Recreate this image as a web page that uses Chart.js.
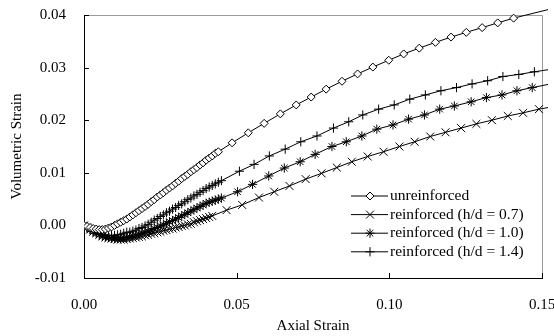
<!DOCTYPE html>
<html>
<head>
<meta charset="utf-8">
<script src="https://cdn.jsdelivr.net/npm/chart.js@4.4.1/dist/chart.umd.min.js"></script>
<style>
  body { margin: 0; background: #fff; }
  canvas { display: block; }
</style>
</head>
<body>
<canvas id="chart" width="554" height="336"></canvas>
<script>
// values (axial strain vs volumetric strain)
const labels = ['unreinforced', 'reinforced (h/d = 0.7)', 'reinforced (h/d = 1.0)', 'reinforced (h/d = 1.4)']

const unrStrain = [0, 0.001, 0.002, 0.003, 0.004, 0.005, 0.006, 0.007, 0.008, 0.009, 0.010, 0.011, 0.012, 0.013, 0.014, 0.015, 0.016, 0.017, 0.018, 0.019, 0.020, 0.021, 0.022, 0.023, 0.024, 0.025, 0.026, 0.027, 0.028, 0.029, 0.030, 0.031, 0.032, 0.033, 0.034, 0.035, 0.036, 0.037, 0.038, 0.039, 0.040, 0.041, 0.042, 0.043, 0.044,
    0.0485, 0.0538, 0.0590, 0.0643, 0.0695, 0.0744, 0.0793, 0.0845, 0.0896, 0.0946, 0.0998, 0.1047, 0.1098, 0.1151, 0.1202, 0.1252, 0.1304, 0.1355, 0.1407, 0.1525]
const unrVol = [0, -0.0002, -0.0004, -0.0006, -0.0007, -0.0008, -0.0008, -0.0007, -0.0005, -0.0003, 0.0000, 0.0003, 0.0006, 0.0009, 0.0012, 0.0016, 0.0020, 0.0024, 0.0028, 0.0032, 0.0036, 0.0040, 0.0045, 0.0049, 0.0054, 0.0058, 0.0062, 0.0067, 0.0071, 0.0075, 0.0080, 0.0084, 0.0089, 0.0093, 0.0097, 0.0102, 0.0106, 0.0110, 0.0115, 0.0119, 0.0124, 0.0128, 0.0132, 0.0137, 0.0140,
    0.0157, 0.0176, 0.0194, 0.0212, 0.0229, 0.0244, 0.0259, 0.0274, 0.0288, 0.0301, 0.0314, 0.0326, 0.0337, 0.0348, 0.0358, 0.0367, 0.0376, 0.0385, 0.0394, 0.0411]

const r07Strain = [0, 0.001, 0.002, 0.003, 0.004, 0.005, 0.006, 0.007, 0.008, 0.009, 0.010, 0.011, 0.012, 0.013, 0.014, 0.015, 0.016, 0.017, 0.018, 0.019, 0.020, 0.021, 0.022, 0.023, 0.024, 0.025, 0.026, 0.027, 0.028, 0.029, 0.030, 0.031, 0.032, 0.033, 0.034, 0.035, 0.036, 0.037, 0.038, 0.039, 0.040, 0.041, 0.042,
    0.0467, 0.0518, 0.0573, 0.0623, 0.0673, 0.0726, 0.0778, 0.0828, 0.0877, 0.0929, 0.0981, 0.1033, 0.1083, 0.1134, 0.1184, 0.1235, 0.1285, 0.1336, 0.1388, 0.1438, 0.1490, 0.1520]
const r07Vol = [0, -0.0004, -0.0008, -0.0012, -0.0015, -0.0018, -0.0021, -0.0023, -0.0024, -0.0025, -0.0026, -0.0027, -0.0027, -0.0027, -0.0026, -0.0025, -0.0024, -0.0023, -0.0022, -0.0021, -0.0019, -0.0018, -0.0016, -0.0015, -0.0013, -0.0012, -0.0010, -0.0009, -0.0007, -0.0006, -0.0004, -0.0003, -0.0001, 0.0000, 0.0002, 0.0003, 0.0006, 0.0008, 0.0010, 0.0012, 0.0014, 0.0016, 0.0018,
    0.0029, 0.0039, 0.0053, 0.0064, 0.0075, 0.0088, 0.0099, 0.0110, 0.0121, 0.0131, 0.0140, 0.0150, 0.0159, 0.0169, 0.0177, 0.0185, 0.0193, 0.0200, 0.0208, 0.0214, 0.0221, 0.0224]

const r10Strain = [0, 0.001, 0.002, 0.003, 0.004, 0.005, 0.006, 0.007, 0.008, 0.009, 0.010, 0.011, 0.012, 0.013, 0.014, 0.015, 0.016, 0.017, 0.018, 0.019, 0.020, 0.021, 0.022, 0.023, 0.024, 0.025, 0.026, 0.027, 0.028, 0.029, 0.030, 0.031, 0.032, 0.033, 0.034, 0.035, 0.036, 0.037, 0.038, 0.039, 0.040, 0.041, 0.042, 0.043, 0.044, 0.045,
    0.0503, 0.0552, 0.0605, 0.0656, 0.0708, 0.0757, 0.0812, 0.0859, 0.0910, 0.0959, 0.1012, 0.1063, 0.1115, 0.1165, 0.1213, 0.1268, 0.1318, 0.1369, 0.1418, 0.1468, 0.1520]
const r10Vol = [0, -0.0004, -0.0008, -0.0012, -0.0015, -0.0018, -0.0020, -0.0022, -0.0023, -0.0024, -0.0025, -0.0025, -0.0025, -0.0024, -0.0023, -0.0022, -0.0020, -0.0019, -0.0017, -0.0015, -0.0013, -0.0011, -0.0009, -0.0006, -0.0004, -0.0001, 0.0001, 0.0004, 0.0007, 0.0009, 0.0012, 0.0015, 0.0018, 0.0021, 0.0024, 0.0027, 0.0030, 0.0033, 0.0036, 0.0039, 0.0042, 0.0044, 0.0046, 0.0048, 0.0050, 0.0052,
    0.0064, 0.0078, 0.0094, 0.0109, 0.0121, 0.0135, 0.0150, 0.0159, 0.0170, 0.0183, 0.0191, 0.0202, 0.0210, 0.0221, 0.0227, 0.0235, 0.0243, 0.0248, 0.0256, 0.0262, 0.0268]

const r14Strain = [0, 0.001, 0.002, 0.003, 0.004, 0.005, 0.006, 0.007, 0.008, 0.009, 0.010, 0.011, 0.012, 0.013, 0.014, 0.015, 0.016, 0.017, 0.018, 0.019, 0.020, 0.021, 0.022, 0.023, 0.024, 0.025, 0.026, 0.027, 0.028, 0.029, 0.030, 0.031, 0.032, 0.033, 0.034, 0.035, 0.036, 0.037, 0.038, 0.039, 0.040, 0.041, 0.042, 0.043, 0.044, 0.045,
    0.0509, 0.0557, 0.0607, 0.0659, 0.0710, 0.0763, 0.0817, 0.0867, 0.0913, 0.0965, 0.1016, 0.1067, 0.1118, 0.1169, 0.1220, 0.1271, 0.1322, 0.1372, 0.1424, 0.1475, 0.1520]
const r14Vol = [0, -0.0004, -0.0008, -0.0011, -0.0013, -0.0015, -0.0017, -0.0018, -0.0019, -0.0019, -0.0019, -0.0018, -0.0017, -0.0015, -0.0013, -0.0013, -0.0011, -0.0009, -0.0006, -0.0004, -0.0001, 0.0002, 0.0006, 0.0010, 0.0013, 0.0017, 0.0020, 0.0024, 0.0027, 0.0031, 0.0034, 0.0038, 0.0041, 0.0045, 0.0049, 0.0052, 0.0056, 0.0059, 0.0063, 0.0066, 0.0070, 0.0073, 0.0076, 0.0079, 0.0082, 0.0085,
    0.0103, 0.0116, 0.0132, 0.0145, 0.0159, 0.0170, 0.0185, 0.0197, 0.0210, 0.0221, 0.0229, 0.0240, 0.0248, 0.0256, 0.0262, 0.0269, 0.0275, 0.0283, 0.0287, 0.0292, 0.0296]

const xTicks = [0, 0.05, 0.10, 0.15]
const yTicks = [-0.01, 0, 0.01, 0.02, 0.03, 0.04]

const FONT = "'Liberation Serif', 'Times New Roman', serif"
Chart.defaults.font.family = FONT
Chart.defaults.font.size = 15
Chart.defaults.color = '#000'

function pts(xs, ys) {
    return xs.map((x, i) => ({ x: x, y: ys[i] }))
}

// last point of each series only carries the line to the edge, no marker
function series(label, xs, ys, style, radius, fill) {
    return {
        label: label,
        data: pts(xs, ys),
        borderColor: '#000',
        borderWidth: 1,
        pointStyle: style,
        pointBorderColor: '#000',
        pointBackgroundColor: fill,
        pointBorderWidth: 1,
        markerRadius: radius,
        pointRadius: (c) => c.dataIndex === c.dataset.data.length - 1 ? 0 : radius,
        pointHoverRadius: 0,
        tension: 0,
        clip: { left: 0, top: 6, right: 6, bottom: 0 }
    }
}

const insideTicks = {
    id: 'insideTicks',
    beforeDatasetsDraw(chart) {
        const ctx = chart.ctx
        const a = chart.chartArea
        ctx.save()
        ctx.strokeStyle = '#9a9a9a'
        ctx.lineWidth = 1
        ctx.beginPath()
        ctx.moveTo(a.left, a.top + 0.5)
        ctx.lineTo(a.right + 0.5, a.top + 0.5)
        ctx.lineTo(a.right + 0.5, a.bottom)
        ctx.stroke()
        ctx.strokeStyle = '#000'
        ctx.beginPath()
        chart.scales.y.ticks.forEach(t => {
            const py = Math.round(chart.scales.y.getPixelForValue(t.value)) + 0.5
            ctx.moveTo(a.left, py)
            ctx.lineTo(a.left + 5, py)
        })
        chart.scales.x.ticks.forEach(t => {
            const px = Math.round(chart.scales.x.getPixelForValue(t.value)) + 0.5
            ctx.moveTo(px, a.bottom)
            ctx.lineTo(px, a.bottom - 5)
        })
        ctx.stroke()
        ctx.restore()
    }
}

const boxLegend = {
    id: 'boxLegend',
    afterDraw(chart) {
        const ctx = chart.ctx
        chart.data.datasets.forEach((ds, i) => {
            const y = 196 + i * 18.6
            ctx.save()
            ctx.strokeStyle = '#000'
            ctx.lineWidth = 1
            ctx.beginPath()
            ctx.moveTo(351, y)
            ctx.lineTo(388, y)
            ctx.stroke()
            ctx.fillStyle = ds.pointBackgroundColor
            Chart.helpers.drawPoint(ctx, { pointStyle: ds.pointStyle, radius: ds.markerRadius, borderWidth: 1, rotation: 0 }, 370, y)
            ctx.fillStyle = '#000'
            ctx.font = '15.5px ' + FONT
            ctx.textBaseline = 'middle'
            ctx.textAlign = 'left'
            ctx.fillText(ds.label, 390, y)
            ctx.restore()
        })
    }
}

new Chart(document.getElementById('chart'), {
    type: 'line',
    data: {
        datasets: [
            series(labels[0], unrStrain, unrVol, 'rectRot', 4, '#fff'),
            series(labels[1], r07Strain, r07Vol, 'crossRot', 5.6, '#000'),
            series(labels[2], r10Strain, r10Vol, 'star', 4.6, '#000'),
            series(labels[3], r14Strain, r14Vol, 'cross', 4.6, '#000')
        ]
    },
    options: {
        responsive: false,
        animation: false,
        layout: { padding: { left: 0, right: 12, top: 15, bottom: 0 } },
        plugins: { legend: { display: false }, tooltip: { enabled: false } },
        scales: {
            x: {
                type: 'linear',
                min: 0,
                max: 0.15,
                afterBuildTicks: (s) => { s.ticks = xTicks.map(v => ({ value: v })) },
                afterFit: (s) => { s.height = 58; s.paddingRight = 0; s.paddingLeft = 0 },
                ticks: { callback: (v) => v.toFixed(2), padding: 18, maxRotation: 0 },
                grid: { display: false, drawTicks: false },
                border: { display: true, color: '#000', width: 1 },
                title: { display: true, text: 'Axial Strain', padding: { top: 0, bottom: 1 } }
            },
            y: {
                type: 'linear',
                min: -0.01,
                max: 0.04,
                afterBuildTicks: (s) => { s.ticks = yTicks.map(v => ({ value: v })) },
                afterFit: (s) => { s.width = 84; s.paddingTop = 0; s.paddingBottom = 0 },
                ticks: { callback: (v) => v.toFixed(2), padding: 18 },
                grid: { display: false, drawTicks: false },
                border: { display: true, color: '#000', width: 1 },
                title: { display: true, text: 'Volumetric Strain', padding: { top: 8, bottom: 0 } }
            }
        }
    },
    plugins: [insideTicks, boxLegend]
})
</script>
</body>
</html>
